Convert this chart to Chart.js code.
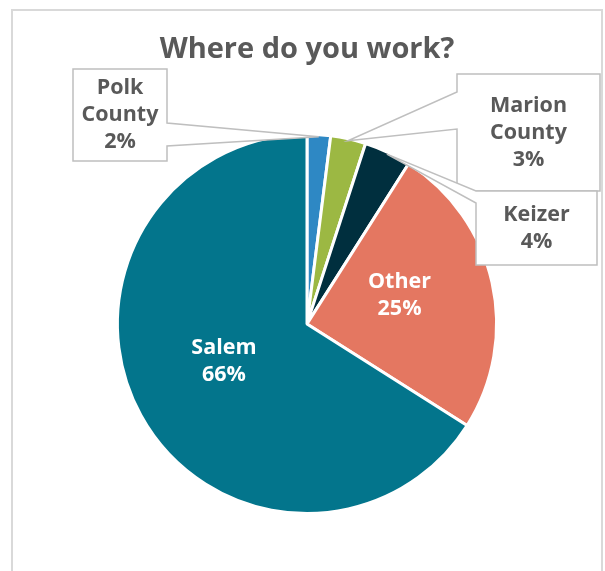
<!DOCTYPE html>
<html>
<head>
<meta charset="utf-8">
<title>Where do you work?</title>
<script src="https://cdn.jsdelivr.net/npm/chart.js@4/dist/chart.umd.min.js"></script>
<style>
  html, body { margin: 0; padding: 0; background: #fff; }
  #wrap { width: 605px; height: 571px; position: relative; }
</style>
</head>
<body>
<div id="wrap"><canvas id="workChart"></canvas></div>
<script>
// survey answers, clockwise from 12 o'clock
const categories = ['Polk County', 'Marion County', 'Keizer', 'Other', 'Salem'];
const shares = [2, 3, 4, 25, 66];
const sliceColors = ['#2e88c4', '#9cb843', '#002f3e', '#e47761', '#03758c'];

// callout boxes for the thin slices: box corners, which side the pointer
// leaves from and where along that side it opens
const callouts = {
    0: { x1: 73, y1: 69, x2: 167, y2: 161, side: 'right', a1: 123, a2: 146 },
    1: { x1: 457, y1: 74, x2: 600, y2: 191, side: 'left', a1: 92, a2: 129 },
    2: { x1: 476, y1: 191, x2: 597, y2: 265, side: 'left', a1: 191, a2: 203 }
};

const grey = '#595959';
const labelFont = 'bold 21.5px "Open Sans", "DejaVu Sans", sans-serif';

function labelLines(i) {
    let words = categories[i].split(' ');
    words.push(shares[i] + '%');
    return words;
}

function drawLines(ctx, lines, cx, cy, lh) {
    let top = cy - (lines.length - 1) * lh / 2;
    lines.forEach((t, k) => ctx.fillText(t, cx, top + k * lh));
}

const framePlugin = {
    id: 'frame',
    beforeDraw(chart) {
        let ctx = chart.ctx;
        ctx.save();
        ctx.strokeStyle = '#d9d9d9';
        ctx.lineWidth = 2;
        ctx.strokeRect(12, 10, 590, 580);
        ctx.restore();
    }
};

const sliceLabels = {
    id: 'sliceLabels',
    afterDatasetsDraw(chart) {
        let ctx = chart.ctx;
        let arcs = chart.getDatasetMeta(0).data;
        ctx.save();
        ctx.font = labelFont;
        ctx.textAlign = 'center';
        ctx.textBaseline = 'middle';
        arcs.forEach((arc, i) => {
            let p = arc.getProps(['x', 'y', 'startAngle', 'endAngle', 'outerRadius'], true);
            let mid = (p.startAngle + p.endAngle) / 2;
            let c = callouts[i];
            if (!c) {
                // big slices get their label inside
                let r = p.outerRadius * 0.5;
                ctx.fillStyle = '#fff';
                drawLines(ctx, labelLines(i), p.x + Math.cos(mid) * r, p.y + Math.sin(mid) * r - 8, 27);
                return;
            }
            let r = p.outerRadius - 2;
            let tx = p.x + Math.cos(mid) * r;
            let ty = p.y + Math.sin(mid) * r;
            ctx.beginPath();
            if (c.side === 'right') {
                ctx.moveTo(c.x1, c.y1);
                ctx.lineTo(c.x2, c.y1);
                ctx.lineTo(c.x2, c.a1);
                ctx.lineTo(tx, ty);
                ctx.lineTo(c.x2, c.a2);
                ctx.lineTo(c.x2, c.y2);
                ctx.lineTo(c.x1, c.y2);
            } else {
                ctx.moveTo(c.x1, c.y1);
                ctx.lineTo(c.x2, c.y1);
                ctx.lineTo(c.x2, c.y2);
                ctx.lineTo(c.x1, c.y2);
                ctx.lineTo(c.x1, c.a2);
                ctx.lineTo(tx, ty);
                ctx.lineTo(c.x1, c.a1);
            }
            ctx.closePath();
            ctx.fillStyle = '#fff';
            ctx.fill();
            ctx.strokeStyle = '#bfbfbf';
            ctx.lineWidth = 1.5;
            ctx.stroke();
            ctx.fillStyle = grey;
            drawLines(ctx, labelLines(i), (c.x1 + c.x2) / 2, (c.y1 + c.y2) / 2, 27);
        });
        ctx.restore();
    }
};

new Chart(document.getElementById('workChart'), {
    type: 'pie',
    data: {
        labels: categories,
        datasets: [{
            data: shares,
            backgroundColor: sliceColors,
            borderColor: '#fff',
            borderWidth: 3,
            hoverOffset: 0
        }]
    },
    options: {
        responsive: true,
        maintainAspectRatio: false,
        animation: false,
        layout: { padding: { left: 115, right: 106, top: 0, bottom: 56 } },
        plugins: {
            legend: { display: false },
            tooltip: { enabled: false },
            title: {
                display: true,
                text: 'Where do you work?',
                color: grey,
                font: { family: '"Open Sans", "DejaVu Sans", sans-serif', size: 29, weight: 'bold', lineHeight: 1.2 },
                padding: { top: 32, bottom: 66 }
            }
        }
    },
    plugins: [framePlugin, sliceLabels]
});
</script>
</body>
</html>
